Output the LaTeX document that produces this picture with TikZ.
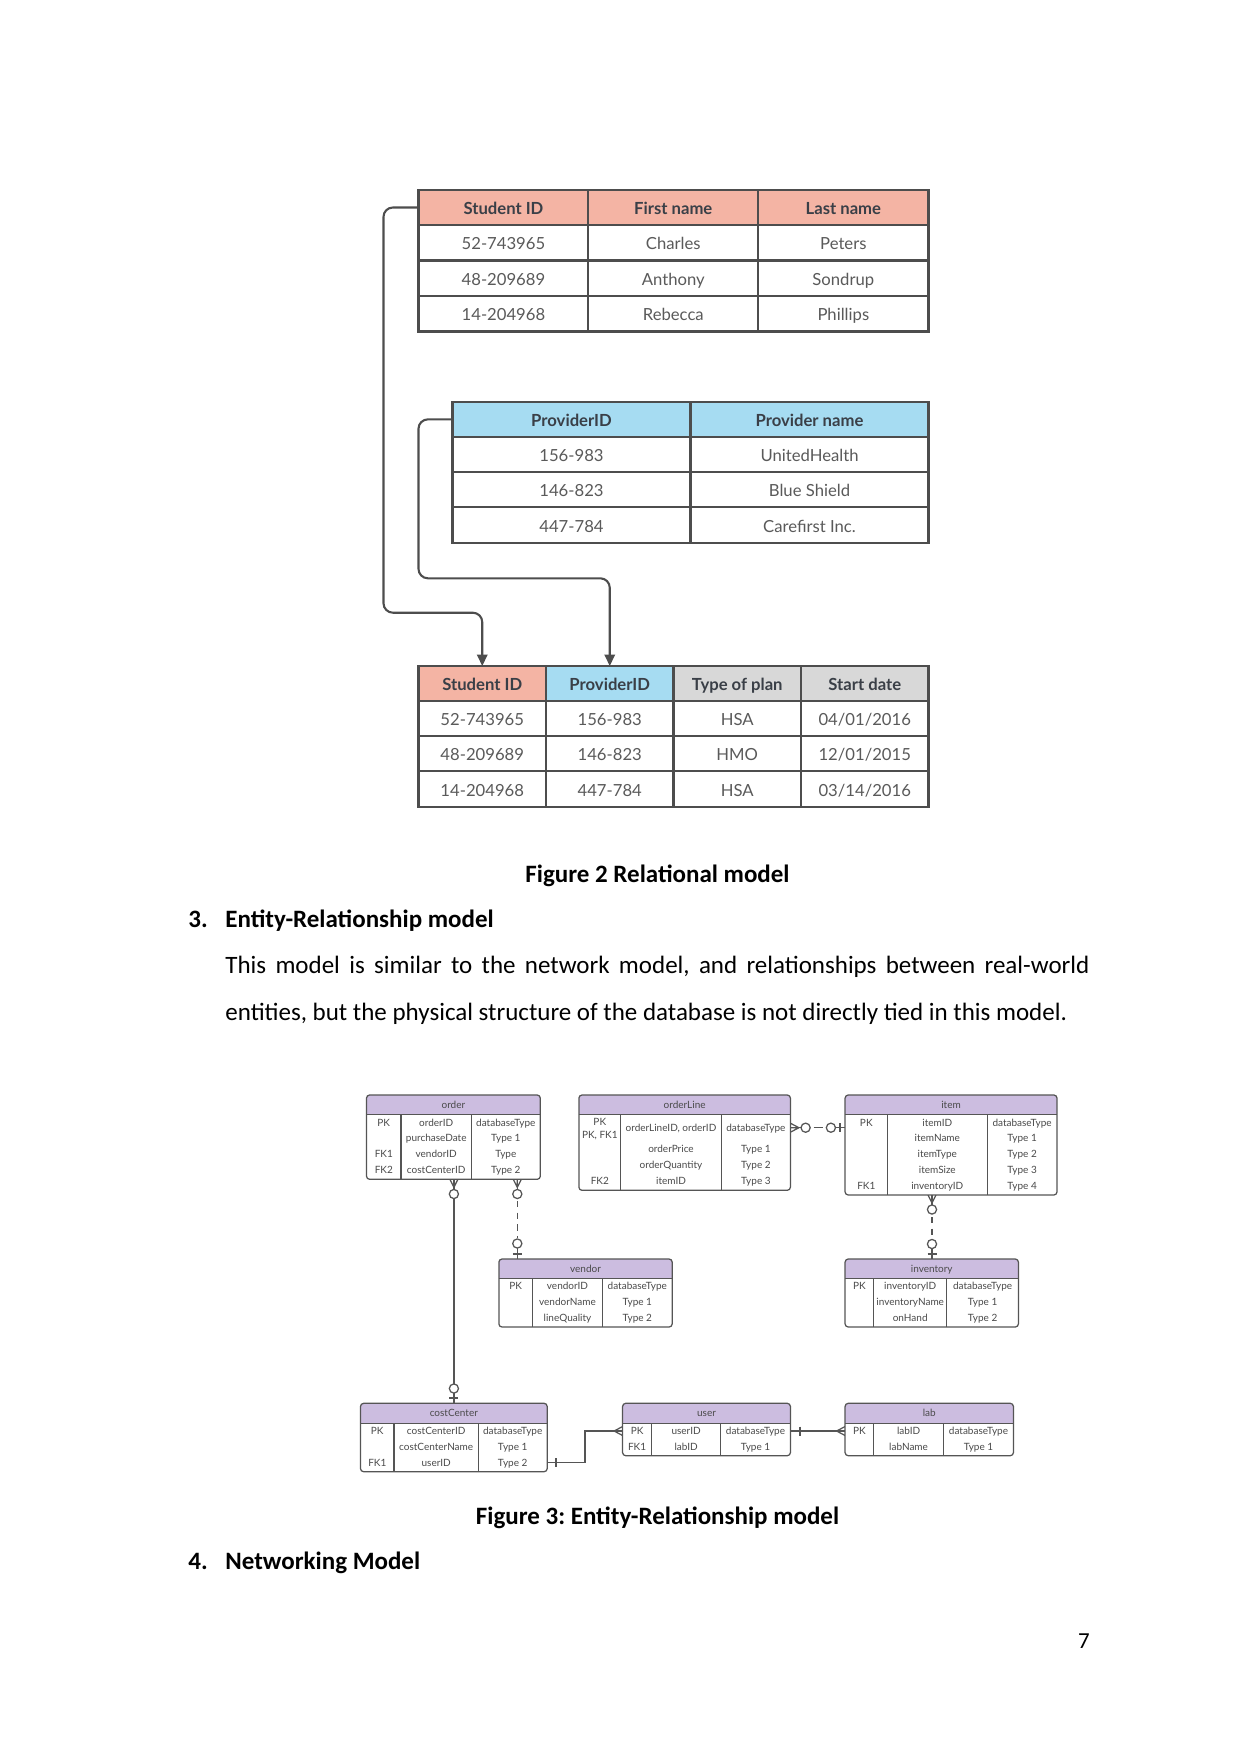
\documentclass[tikz,border=0pt]{standalone}
\usepackage{fontspec}
\setmainfont{Carlito}
\newfontfamily\tabfont{Lato}
\usetikzlibrary{arrows.meta}
\frenchspacing
\definecolor{salmon}{HTML}{F4B4A4}
\definecolor{skyb}{HTML}{A6DCF2}
\definecolor{lgray}{HTML}{D8D8D8}
\definecolor{lav}{HTML}{CCBDE0}
\definecolor{tborder}{HTML}{4D4D4D}
\definecolor{thtext}{HTML}{3A3F47}
\definecolor{tdtext}{HTML}{5A5A5A}
\definecolor{erborder}{HTML}{555555}
\definecolor{ertext}{HTML}{4A4A4A}
\tikzset{
 tline/.style={draw=tborder, line width=1pt},
 th/.style={font=\tabfont\bfseries\fontsize{8}{9}\selectfont, text=thtext, inner sep=0, text height=5.8pt, text depth=0pt},
 td/.style={font=\tabfont\fontsize{8}{9}\selectfont, text=tdtext, inner sep=0, text height=5.8pt, text depth=0pt},
 conn/.style={draw=tborder, line width=1pt, rounded corners=4.5pt},
 erl/.style={draw=erborder, line width=0.6pt},
 erdash/.style={erl, dash pattern=on 3pt off 2.6pt},
 ert/.style={font=\tabfont\fontsize{4.8}{5.5}\selectfont, text=ertext, inner sep=0, text height=3.4pt, text depth=0pt},
 body/.style={font=\fontsize{12}{14}\selectfont\frenchspacing, inner sep=0, anchor=base west},
 bodyc/.style={font=\fontsize{12}{14}\selectfont\bfseries\frenchspacing, inner sep=0, anchor=base},
}
% ER entity box: name, x0,x1,x2,x3, ytop,yhdr,ybot, title
\newcommand{\ertab}[9]{%
 \begin{scope}
 \clip[rounded corners=1.5pt] (#2,#6) rectangle (#5,#8);
 \fill[white] (#2,#6) rectangle (#5,#8);
 \fill[lav] (#2,#6) rectangle (#5,#7);
 \end{scope}
 \draw[erl, rounded corners=1.5pt] (#2,#6) rectangle (#5,#8);
 \draw[erl] (#2,#7) -- (#5,#7) (#3,#7) -- (#3,#8) (#4,#7) -- (#4,#8);
 \node[ert] (#1) at ({(#2+#5)/2},{(#6+#7)/2}) {#9};
}
% ER row: prefix, y, xa, ta, xb, tb, xc, tc
\newcommand{\errow}[8]{%
 \node[ert] (#1a) at (#3,#2) {#4};
 \node[ert] (#1b) at (#5,#2) {#6};
 \node[ert] (#1c) at (#7,#2) {#8};
}
% crow's foot vertical: x, y(edge), dir (+1 down, -1 up)
\newcommand{\crowV}[3]{\draw[erl] ({#1-4},#2) -- (#1,{#2+#3*8}) -- ({#1+4},#2) (#1,#2) -- (#1,{#2+#3*8});}
% crow's foot horizontal: x(edge), y, dir (+1 right, -1 left)
\newcommand{\crowH}[3]{\draw[erl] (#1,{#2-4.5}) -- ({#1+#3*8.5},#2) -- (#1,{#2+4.5}) (#1,#2) -- ({#1+#3*8.5},#2);}
\newcommand{\ercirc}[2]{\draw[erl, fill=white] (#1,#2) circle[radius=2.2pt];}
\newcommand{\barH}[2]{\draw[erl] ({#1-4.5},#2) -- ({#1+4.5},#2);}
\newcommand{\barV}[2]{\draw[erl] (#1,{#2-4.5}) -- (#1,{#2+4.5});}

\begin{document}
\begin{tikzpicture}[x=0.48pt,y=-0.48pt]
\useasboundingbox (0,0) rectangle (1241,1754);
\fill[white] (0,0) rectangle (1241,1754);

%================ Table 1: students
\fill[salmon] (418.5,190) rectangle (928.5,225);
\draw[tline] (418.5,190) rectangle (928.5,331.5);
\foreach \y in {225,260.5,296} \draw[tline] (418.5,\y) -- (928.5,\y);
\foreach \x in {588.4,758.2} \draw[tline] (\x,190) -- (\x,331.5);
\node[th] (sh1) at (503.45,208.5) {Student ID};
\node[th] (sh2) at (673.3,208.5) {First name};
\node[th] (sh3) at (843.35,208.5) {Last name};
\node[td] (s11) at (503.45,243.75) {52-743965};
\node[td] (s12) at (673.3,243.75) {Charles};
\node[td] (s13) at (843.35,243.75) {Peters};
\node[td] (s21) at (503.45,279.25) {48-209689};
\node[td] (s22) at (673.3,279.25) {Anthony};
\node[td] (s23) at (843.35,279.25) {Sondrup};
\node[td] (s31) at (503.45,314.75) {14-204968};
\node[td] (s32) at (673.3,314.75) {Rebecca};
\node[td] (s33) at (843.35,314.75) {Phillips};

%================ Table 2: providers
\fill[skyb] (452.5,401.7) rectangle (928.5,437);
\draw[tline] (452.5,401.7) rectangle (928.5,542.7);
\foreach \y in {437,472,507.3} \draw[tline] (452.5,\y) -- (928.5,\y);
\draw[tline] (690.5,401.7) -- (690.5,542.7);
\node[th] (ph1) at (571.5,420.35) {ProviderID};
\node[th] (ph2) at (809.5,420.35) {Provider name};
\node[td] (p11) at (571.5,455.5) {156-983};
\node[td] (p12) at (809.5,455.5) {UnitedHealth};
\node[td] (p21) at (571.5,490.65) {146-823};
\node[td] (p22) at (809.5,490.65) {Blue Shield};
\node[td] (p31) at (571.5,526) {447-784};
\node[td] (p32) at (809.5,526) {Carefirst Inc.};

%================ Table 3: plans
\fill[salmon] (418.5,666) rectangle (546,700.7);
\fill[skyb] (546,666) rectangle (673.5,700.7);
\fill[lgray] (673.5,666) rectangle (928.5,700.7);
\draw[tline] (418.5,666) rectangle (928.5,806.7);
\foreach \y in {700.7,736,771.3} \draw[tline] (418.5,\y) -- (928.5,\y);
\foreach \x in {546,673.5,801} \draw[tline] (\x,666) -- (\x,806.7);
\node[th] (qh1) at (482.25,684.35) {Student ID};
\node[th] (qh2) at (609.75,684.35) {ProviderID};
\node[th] (qh3) at (737.25,684.35) {Type of plan};
\node[th] (qh4) at (864.75,684.35) {Start date};
\node[td] (q11) at (482.25,719.35) {52-743965};
\node[td] (q12) at (609.75,719.35) {156-983};
\node[td] (q13) at (737.25,719.35) {HSA};
\node[td] (q14) at (864.75,719.35) {04/01/2016};
\node[td] (q21) at (482.25,754.65) {48-209689};
\node[td] (q22) at (609.75,754.65) {146-823};
\node[td] (q23) at (737.25,754.65) {HMO};
\node[td] (q24) at (864.75,754.65) {12/01/2015};
\node[td] (q31) at (482.25,790) {14-204968};
\node[td] (q32) at (609.75,790) {447-784};
\node[td] (q33) at (737.25,790) {HSA};
\node[td] (q34) at (864.75,790) {03/14/2016};

% connectors
\coordinate (c1s) at (418.5,207.5);
\coordinate (c1e) at (482.25,666);
\coordinate (c2s) at (452.5,419.35);
\coordinate (c2e) at (609.75,666);
\draw[conn, -{Triangle[length=5.5pt,width=5pt]}] (c1s) -| (383.5,612.7) -| (c1e);
\draw[conn, -{Triangle[length=5.5pt,width=5pt]}] (c2s) -| (418.5,578.3) -| (c2e);

%================ Text
\node[bodyc] (cap2) at (657.5,882) {Figure 2 Relational model};
\node[body, font=\fontsize{12}{14}\selectfont\bfseries] (n3) at (188,927.3) {3.};
\node[body, font=\fontsize{12}{14}\selectfont\bfseries] (h3) at (225,927.3) {Entity-Relationship model};
\node[body] (b1) at (225,973.3) {\makebox[414.7pt][s]{This model is similar to the network model, and relationships between real-world}};
\node[body] (b2) at (225,1020) {entities, but the physical structure of the database is not directly tied in this model.};
\node[bodyc] (cap3) at (657.5,1524) {Figure 3: Entity-Relationship model};
\node[body, font=\fontsize{12}{14}\selectfont\bfseries] (n4) at (188,1569) {4.};
\node[body, font=\fontsize{12}{14}\selectfont\bfseries] (h4) at (225,1569) {Networking Model};
\node[font=\fontsize{11}{13}\selectfont, inner sep=0, anchor=base] (pg) at (1084,1648) {7};

%================ ER diagram: relationships (behind boxes)
% order -> costCenter
\coordinate (r1a) at (453.9,1179.3);
\coordinate (r1b) at (453.9,1403.3);
\draw[erl] (r1a) -- (r1b);
\crowV{453.9}{1179.3}{1}
\ercirc{453.9}{1194}
\ercirc{453.9}{1388.5}
\barH{453.9}{1398}
% order -> vendor
\coordinate (r2a) at (517.3,1179.3);
\coordinate (r2b) at (517.3,1259);
\draw[erl] (r2a) -- ++(0,14.7);
\draw[erdash] (517.3,1201) -- (517.3,1238);
\draw[erl] (517.3,1243) -- (r2b);
\crowV{517.3}{1179.3}{1}
\ercirc{517.3}{1194}
\ercirc{517.3}{1243.5}
\barH{517.3}{1254}
% orderLine -> item
\coordinate (r3a) at (790.4,1127.7);
\coordinate (r3b) at (845.1,1127.7);
\draw[erl] (r3a) -- (805.6,1127.7);
\draw[erl] (813.5,1127.7) -- (822.5,1127.7);
\draw[erl] (830.9,1127.7) -- (r3b);
\crowH{790.4}{1127.7}{1}
\ercirc{805.6}{1127.7}
\ercirc{830.9}{1127.7}
\barV{840}{1127.7}
% item -> inventory
\coordinate (r4a) at (932,1195);
\coordinate (r4b) at (932,1259);
\draw[erl] (r4a) -- ++(0,15);
\draw[erdash] (932,1217) -- (932,1238);
\draw[erl] (932,1244) -- (r4b);
\crowV{932}{1195}{1}
\ercirc{932}{1209.5}
\ercirc{932}{1244}
\barH{932}{1254}
% costCenter -> user
\coordinate (r5a) at (547.2,1462.7);
\coordinate (r5b) at (622.6,1431);
\draw[erl] (r5a) -| (584.9,1431) -- (r5b);
\barV{555.9}{1462.7}
\crowH{622.6}{1431}{-1}
% user -> lab
\coordinate (r6a) at (790.4,1431);
\coordinate (r6b) at (845.1,1431);
\draw[erl] (r6a) -- (r6b);
\barV{800}{1431}
\crowH{845.1}{1431}{-1}

%================ ER entities
\ertab{eorder}{366.5}{401}{471.3}{540.3}{1095}{1114.3}{1179.3}{order}
\errow{oA}{1122.7}{383.8}{PK}{436.2}{orderID}{505.8}{databaseType}
\errow{oB}{1138.3}{383.8}{}{436.2}{purchaseDate}{505.8}{Type 1}
\errow{oC}{1154.3}{383.8}{FK1}{436.2}{vendorID}{505.8}{Type}
\errow{oD}{1170}{383.8}{FK2}{436.2}{costCenterID}{505.8}{Type 2}

\ertab{eline}{578.9}{620.7}{721.4}{790.4}{1095}{1114.3}{1190.3}{orderLine}
\node[ert] (lPK) at (599.8,1122.3) {PK};
\node[ert] (lPKF) at (599.8,1135) {PK, FK1};
\errow{lA}{1127.7}{599.8}{}{671}{orderLineID, orderID}{755.9}{databaseType}
\errow{lB}{1149.3}{599.8}{}{671}{orderPrice}{755.9}{Type 1}
\errow{lC}{1165.3}{599.8}{}{671}{orderQuantity}{755.9}{Type 2}
\errow{lD}{1181.3}{599.8}{FK2}{671}{itemID}{755.9}{Type 3}

\ertab{eitem}{845.1}{887.4}{987.2}{1057}{1095}{1114.3}{1195}{item}
\errow{iA}{1122.7}{866.3}{PK}{937.3}{itemID}{1022.1}{databaseType}
\errow{iB}{1138.3}{866.3}{}{937.3}{itemName}{1022.1}{Type 1}
\errow{iC}{1154.3}{866.3}{}{937.3}{itemType}{1022.1}{Type 2}
\errow{iD}{1170}{866.3}{}{937.3}{itemSize}{1022.1}{Type 3}
\errow{iE}{1185.7}{866.3}{FK1}{937.3}{inventoryID}{1022.1}{Type 4}

\ertab{evendor}{498.9}{532.5}{602.4}{672.2}{1259}{1278.3}{1327}{vendor}
\errow{vA}{1286.3}{515.7}{PK}{567.5}{vendorID}{637.3}{databaseType}
\errow{vB}{1302}{515.7}{}{567.5}{vendorName}{637.3}{Type 1}
\errow{vC}{1317.7}{515.7}{}{567.5}{lineQuality}{637.3}{Type 2}

\ertab{einv}{845.1}{873.6}{946.7}{1018.4}{1259}{1278.3}{1327}{inventory}
\errow{nA}{1286.3}{859.4}{PK}{910.2}{inventoryID}{982.6}{databaseType}
\errow{nB}{1302}{859.4}{}{910.2}{inventoryName}{982.6}{Type 1}
\errow{nC}{1317.7}{859.4}{}{910.2}{onHand}{982.6}{Type 2}

\ertab{ecost}{360.5}{394.1}{478.2}{547.2}{1403.3}{1423.3}{1471.7}{costCenter}
\errow{cA}{1431}{377.3}{PK}{436.2}{costCenterID}{512.7}{databaseType}
\errow{cB}{1446.7}{377.3}{}{436.2}{costCenterName}{512.7}{Type 1}
\errow{cC}{1462.7}{377.3}{FK1}{436.2}{userID}{512.7}{Type 2}

\ertab{euser}{622.6}{651.6}{720.5}{790.4}{1403.3}{1423.3}{1455.7}{user}
\errow{uA}{1431}{637.1}{PK}{686.1}{userID}{755.5}{databaseType}
\errow{uB}{1446.7}{637.1}{FK1}{686.1}{labID}{755.5}{Type 1}

\ertab{elab}{845.1}{873.6}{943.5}{1013.4}{1403.3}{1423.3}{1455.7}{lab}
\errow{bA}{1431}{859.4}{PK}{908.6}{labID}{978.5}{databaseType}
\errow{bB}{1446.7}{859.4}{}{908.6}{labName}{978.5}{Type 1}
\end{tikzpicture}
\end{document}
